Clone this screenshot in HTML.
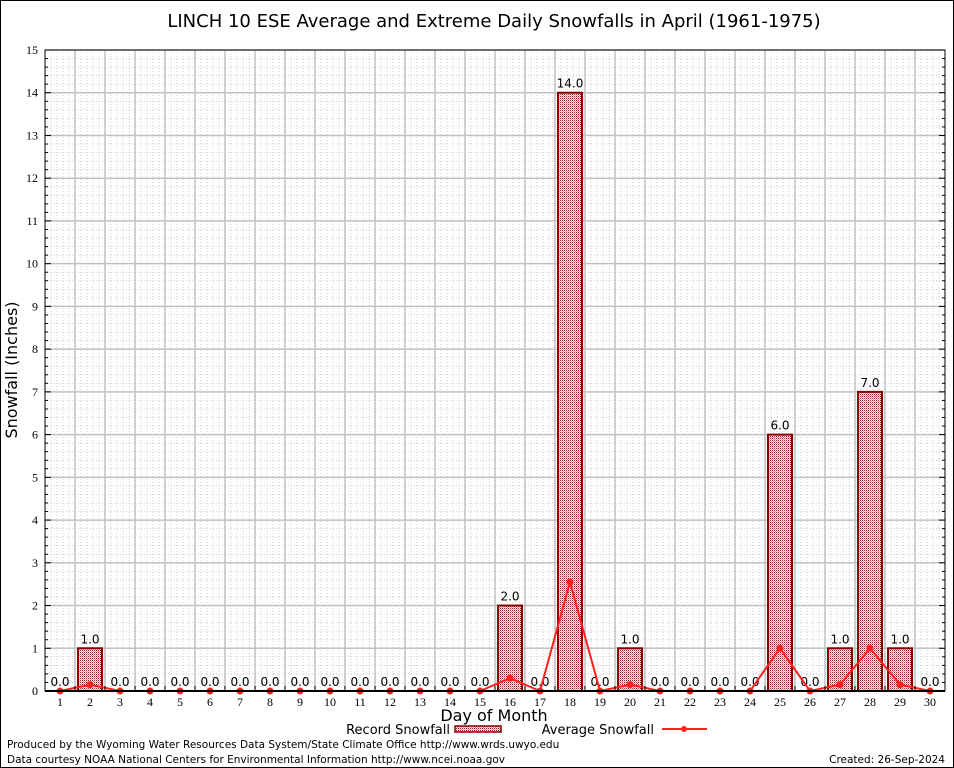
<!DOCTYPE html>
<html><head><meta charset="utf-8"><style>
html,body{margin:0;padding:0;background:#fff}
svg{display:block;font-family:"DejaVu Sans","Liberation Sans",sans-serif}
</style></head><body>
<svg id="chart" width="954" height="768">
<defs>
<pattern id="hatch" width="2" height="2" patternUnits="userSpaceOnUse">
<rect width="2" height="2" fill="#fff"/>
<rect width="1" height="1" fill="#a01818"/><rect x="1" y="1" width="1" height="1" fill="#d89090"/>
</pattern>
</defs>
<rect x="0.5" y="0.5" width="953" height="767" fill="#fff" stroke="#000"/>
<text x="494" y="27" font-size="18" text-anchor="middle">LINCH 10 ESE Average and Extreme Daily Snowfalls in April (1961-1975)</text>
<g id="grid"></g>
<g id="bars"></g>
<g id="line"></g>
<g id="axes"></g>
<text transform="translate(17,370) rotate(-90)" font-size="16" text-anchor="middle">Snowfall (Inches)</text>
<text x="494" y="721" font-size="16" text-anchor="middle">Day of Month</text>
<g>
<text x="450" y="734" font-size="13" text-anchor="end">Record Snowfall</text>
<rect x="455" y="726" width="46" height="6" fill="url(#hatch)" stroke="#8b0000" stroke-width="1.5"/>
<text x="654" y="734" font-size="13" text-anchor="end">Average Snowfall</text>
<line x1="662" y1="729" x2="707" y2="729" stroke="#ff2020" stroke-width="2"/>
<circle cx="684" cy="729" r="3" fill="#ff2020"/>
</g>
<text x="7" y="748" font-size="10.5">Produced by the Wyoming Water Resources Data System/State Climate Office http://www.wrds.uwyo.edu</text>
<text x="7" y="763" font-size="10.5">Data courtesy NOAA National Centers for Environmental Information http://www.ncei.noaa.gov</text>
<text x="945" y="763" font-size="10.5" text-anchor="end">Created: 26-Sep-2024</text>
</svg>
<script>
const days=[1,2,3,4,5,6,7,8,9,10,11,12,13,14,15,16,17,18,19,20,21,22,23,24,25,26,27,28,29,30];
const recordValues=[0,1,0,0,0,0,0,0,0,0,0,0,0,0,0,2,0,14,0,1,0,0,0,0,6,0,1,7,1,0];
const averageValues=[0,0.15,0,0,0,0,0,0,0,0,0,0,0,0,0,0.3,0,2.55,0,0.15,0,0,0,0,1.0,0,0.15,1.0,0.15,0];
const yTicks=[0,1,2,3,4,5,6,7,8,9,10,11,12,13,14,15];
const L=45,R=945,T=50,B=691,yMax=15;
const NS="http://www.w3.org/2000/svg";
const xs=d=>L+(d-0.5)*(R-L)/30;
const ys=v=>B-v*(B-T)/yMax;
function mk(tag,attrs,parent){const e=document.createElementNS(NS,tag);for(const k in attrs)e.setAttribute(k,attrs[k]);parent.appendChild(e);return e;}
const grid=document.getElementById('grid'),bars=document.getElementById('bars'),line=document.getElementById('line'),axes=document.getElementById('axes');
const dw=(R-L)/30;
for(let v=0.2;v<yMax;v+=0.2){if(Math.abs(v-Math.round(v))<0.01)continue;const y=ys(v);mk('line',{x1:L,x2:R,y1:y,y2:y,stroke:'#bbb','stroke-width':0.7,'stroke-dasharray':'1,2'},grid);}
for(let i=0;i<30;i++)for(let j=1;j<5;j++){const x=L+i*dw+j*dw/5;mk('line',{x1:x,x2:x,y1:T,y2:B,stroke:'#bbb','stroke-width':0.7,'stroke-dasharray':'1,2'},grid);}
yTicks.forEach(v=>{const y=ys(v);const g=mk('line',{x1:L,x2:R,y1:y,y2:y,stroke:'#c0c0c0','stroke-width':1.5},grid);
const t=mk('text',{x:L-7,y:y+4,'font-size':12,'text-anchor':'end','font-family':'Liberation Serif'},axes);t.textContent=v;

});
for(let i=1;i<30;i++){const x=L+i*dw;mk('line',{x1:x,x2:x,y1:T,y2:B,stroke:'#c0c0c0','stroke-width':1.5},grid);}
days.forEach((d,i)=>{const v=recordValues[i];const cx=xs(d);
if(v>0){const r=mk('rect',{x:cx-12,y:ys(v),width:24,height:B-ys(v),fill:'url(#hatch)',stroke:'#8b0000','stroke-width':2},bars);

}
const t=mk('text',{x:cx,y:ys(v)-5,'font-size':12,'text-anchor':'middle'},bars);t.textContent=v.toFixed(1);


const xl=mk('text',{x:cx,y:B+15,'font-size':12,'text-anchor':'middle','font-family':'Liberation Serif'},axes);xl.textContent=d;


mk('line',{x1:L+i*dw,x2:L+i*dw,y1:B,y2:B-5,stroke:'#000'},axes);});
const pts=days.map((d,i)=>xs(d)+','+ys(averageValues[i])).join(' ');
const pl=mk('polyline',{points:pts,fill:'none',stroke:'#ff2020','stroke-width':2},line);


days.forEach((d,i)=>{const c=mk('circle',{cx:xs(d),cy:ys(averageValues[i]),r:3.5,fill:'#ff2020'},line);

});
mk('rect',{x:L,y:T,width:R-L,height:B-T,fill:'none',stroke:'#000','stroke-width':1},axes);
mk('line',{x1:L,x2:R,y1:B,y2:B,stroke:'#000','stroke-width':2},axes);
for(let v=0;v<=yMax;v+=0.2){const y=ys(v);const big=Math.abs(v-Math.round(v))<0.01;const w=big?6:3;
mk('line',{x1:L,x2:L+w,y1:y,y2:y,stroke:'#000'},axes);mk('line',{x1:R,x2:R-w,y1:y,y2:y,stroke:'#000'},axes);}
</script>
</body></html>
